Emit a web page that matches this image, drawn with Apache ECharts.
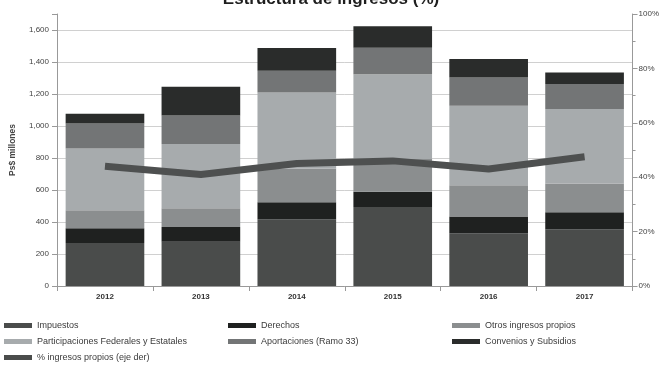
<!DOCTYPE html>
<html><head><meta charset="utf-8">
<script src="https://cdn.jsdelivr.net/npm/echarts@6/dist/echarts.min.js"></script>
<style>html,body{margin:0;padding:0;background:#fff}#c{width:662px;height:365px}</style>
</head><body><div id="c"></div>
<script>
const years = ['2012','2013','2014','2015','2016','2017'];
const impuestos = [268, 276, 417, 494, 330, 355];
const derechos = [93, 93, 106, 95, 105, 106];
const otros = [112, 117, 212, 205, 194, 180];
const participaciones = [386, 402, 475, 529, 498, 465];
const aportaciones = [156, 177, 135, 166, 176, 156];
const convenios = [62, 180, 143, 135, 115, 72];
const pctPropios = [44, 41, 45, 46, 43, 47.5];
const leftTicks = [0, 200, 400, 600, 800, 1000, 1200, 1400, 1600];
const rightTicks = [0, 20, 40, 60, 80, 100];

const names = ['Impuestos','Derechos','Otros ingresos propios','Participaciones Federales y Estatales','Aportaciones (Ramo 33)','Convenios y Subsidios','% ingresos propios (eje der)'];
const colors = ['#4a4c4b','#1f2120','#8b8e8f','#a7abad','#737576','#2a2c2b','#4e5050'];
const stacks = [impuestos, derechos, otros, participaciones, aportaciones, convenios];
const font = "'Liberation Sans Narrow','Liberation Sans',Arial,sans-serif";

const series = stacks.map((d, i) => ({
  name: names[i], type: 'bar', stack: 'total', data: d, barWidth: '82%',
  itemStyle: { color: colors[i] }
}));
series.push({
  name: names[6], type: 'line', yAxisIndex: 1, data: pctPropios,
  symbol: 'none', lineStyle: { color: colors[6], width: 7 }, z: 5
});

const legendPos = [
  [4, 321], [228, 321], [452, 321],
  [4, 337], [228, 337], [452, 337],
  [4, 353]
];
const legends = names.map((n, i) => ({
  data: [n], left: legendPos[i][0], top: legendPos[i][1],
  itemWidth: 28, itemHeight: 5, itemGap: 4, padding: 0,
  textStyle: { fontSize: 9, color: '#3a3a3a', fontFamily: font },
  icon: 'rect'
}));

const chart = echarts.init(document.getElementById('c'));
chart.setOption({
  animation: false,
  color: colors,
  title: {
    text: 'Estructura de ingresos (%)', left: 'center', top: -14,
    textStyle: { fontSize: 17, fontWeight: 'bold', color: '#1e1e1e', fontFamily: "'Liberation Sans',Arial,sans-serif" }
  },
  legend: legends,
  grid: { left: 54, right: 29, top: 14, bottom: 79 },
  xAxis: {
    type: 'category', data: years,
    axisLine: { lineStyle: { color: '#999' } },
    axisTick: { show: true, alignWithLabel: false, lineStyle: { color: '#999' } },
    axisLabel: { fontSize: 8, fontWeight: 'bold', color: '#333', margin: 7, fontFamily: font }
  },
  yAxis: [{
    type: 'value', min: 0, max: 1700, interval: 200,
    name: 'Ps$ millones', nameLocation: 'middle', nameGap: 40, nameRotate: 90,
    nameTextStyle: { fontSize: 8.5, fontWeight: 'bold', color: '#444', fontFamily: font },
    axisLine: { show: true, lineStyle: { color: '#999' } },
    axisTick: { show: true, lineStyle: { color: '#999' } },
    axisLabel: { fontSize: 8, color: '#444', fontFamily: font,
      formatter: v => leftTicks.includes(v) ? v.toLocaleString('en-US') : '' },
    splitLine: { show: true, showMaxLine: false, lineStyle: { color: '#d0d0d0' } }
  }, {
    type: 'value', min: 0, max: 100, interval: 20, position: 'right',
    axisLine: { show: true, lineStyle: { color: '#999' } },
    axisTick: { show: true, lineStyle: { color: '#999' } },
    minorTick: { show: true, splitNumber: 2, length: 3, lineStyle: { color: '#999' } },
    axisLabel: { fontSize: 8, color: '#444', fontFamily: font, margin: 6,
      formatter: v => rightTicks.includes(v) ? v + '%' : '' },
    splitLine: { show: false }
  }],
  series: series
});
</script></body></html>
